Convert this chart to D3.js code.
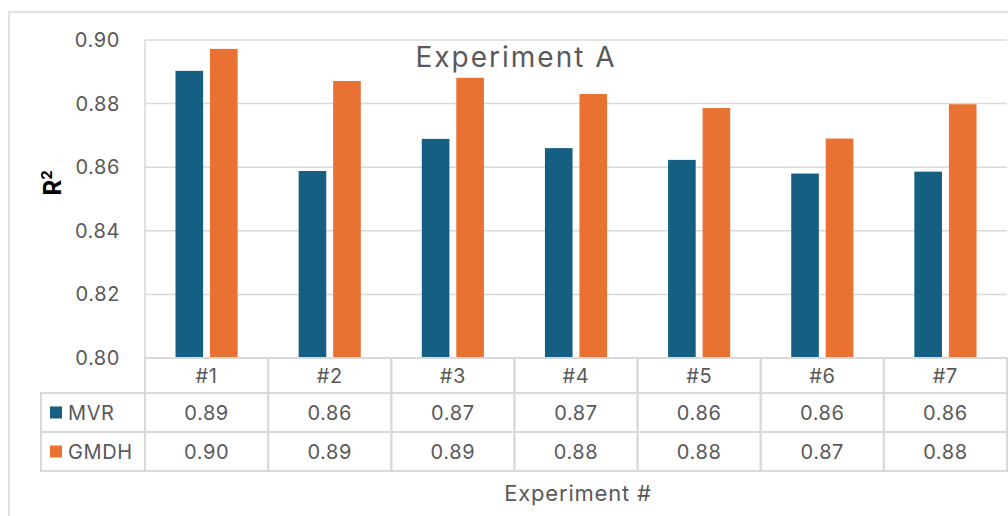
<!DOCTYPE html>
<html lang="en">
<head>
<meta charset="UTF-8">
<title>Experiment A</title>
<script src="https://cdn.jsdelivr.net/npm/d3@7"></script>
<style>
    body{ margin:0; background:#fff; }
    svg{ display:block; font-family: Inter, "Open Sans", sans-serif; }
    .grid line{ stroke:#d9d9d9; stroke-width:1.5px; }
    .tick-label{ fill:#595959; font-size:20px; letter-spacing:0.6px; }
    .cell{ fill:none; stroke:#d9d9d9; stroke-width:2px; }
    .cell-text{ fill:#595959; font-size:20px; letter-spacing:0.6px; text-anchor:middle; }
</style>
</head>
<body>
<svg id="main" width="1008" height="516"></svg>
<script>
    const categories = ["#1","#2","#3","#4","#5","#6","#7"]
    const seriesNames = ["MVR","GMDH"]
    const mvr = [0.8903,0.8588,0.8689,0.8660,0.8623,0.8580,0.8586]
    const gmdh = [0.8972,0.8871,0.8881,0.8830,0.8786,0.8690,0.8798]
    const yTicks = [0.80,0.82,0.84,0.86,0.88,0.90]
    const colors = ["#156082","#E97132"]

    const margins = { top:40, bottom:158, left:145, right:1 }
    const W = 1008, H = 516
    const svg = d3.select("#main")

    // outer chart frame
    svg.append("rect")
        .attr("x",9).attr("y",12)
        .attr("width",1010).attr("height",520)
        .attr("fill","none").attr("stroke","#d9d9d9").attr("stroke-width",1.5)

    const x0 = d3.scaleBand()
        .domain(categories)
        .range([margins.left, W - margins.right])
    const x1 = d3.scaleBand()
        .domain(seriesNames)
        .range([30.5, x0.bandwidth() - 30.5])
        .paddingInner(0.2)
    const yScale = d3.scaleLinear()
        .domain([0.80,0.90])
        .range([358, margins.top])

    // gridlines
    svg.append("g").attr("class","grid")
        .selectAll("line").data(yTicks).enter().append("line")
        .attr("x1",margins.left).attr("x2",W - margins.right)
        .attr("y1",d=>yScale(d)).attr("y2",d=>yScale(d))
    svg.append("line")
        .attr("x1",margins.left).attr("x2",margins.left)
        .attr("y1",yScale(0.90)).attr("y2",yScale(0.80))
        .attr("stroke","#d9d9d9").attr("stroke-width",1.5)

    // y tick labels
    svg.append("g")
        .selectAll("text").data(yTicks).enter().append("text")
        .attr("class","tick-label")
        .attr("x",120).attr("y",d=>yScale(d))
        .attr("dy","0.35em").attr("text-anchor","end")
        .text(d=>d3.format(".2f")(d))

    // bars
    const series = [mvr, gmdh]
    seriesNames.forEach((name,i)=>{
        svg.append("g").attr("fill",colors[i])
            .selectAll("rect").data(series[i]).enter().append("rect")
            .attr("x",(d,j)=>x0(categories[j]) + x1(name))
            .attr("width",x1.bandwidth())
            .attr("y",d=>yScale(d))
            .attr("height",d=>yScale(0.80) - yScale(d))
    })

    // data table
    const rowTop = [358, 393, 432], rowH = [35, 39, 39]
    const legendLeft = 41
    const table = svg.append("g")
    categories.forEach((c,j)=>{
        table.append("rect").attr("class","cell")
            .attr("x",x0(c)).attr("y",rowTop[0])
            .attr("width",x0.bandwidth()).attr("height",rowH[0])
        table.append("text").attr("class","cell-text")
            .attr("x",x0(c) + x0.bandwidth()/2).attr("y",rowTop[0] + rowH[0]/2)
            .attr("dy","0.35em").text(c)
    })
    seriesNames.forEach((name,i)=>{
        const y = rowTop[i+1], h = rowH[i+1]
        table.append("rect").attr("class","cell")
            .attr("x",legendLeft).attr("y",y)
            .attr("width",margins.left - legendLeft).attr("height",h)
        table.append("rect")
            .attr("x",50).attr("y",y + h/2 - 6)
            .attr("width",12).attr("height",12).attr("fill",colors[i])
        table.append("text").attr("class","cell-text")
            .attr("x",68).attr("y",y + h/2).attr("dy","0.35em")
            .style("text-anchor","start")
            .text(name)
        series[i].forEach((v,j)=>{
            table.append("rect").attr("class","cell")
                .attr("x",x0(categories[j])).attr("y",y)
                .attr("width",x0.bandwidth()).attr("height",h)
            table.append("text").attr("class","cell-text")
                .attr("x",x0(categories[j]) + x0.bandwidth()/2).attr("y",y + h/2)
                .attr("dy","0.35em").text(d3.format(".2f")(v))
        })
    })

    // titles
    svg.append("text")
        .attr("x",516).attr("y",57).attr("dy","0.35em")
        .attr("text-anchor","middle")
        .attr("fill","#595959").attr("font-size",28)
        .attr("letter-spacing","2px")
        .text("Experiment A")
    svg.append("text")
        .attr("x",578).attr("y",493).attr("dy","0.35em")
        .attr("text-anchor","middle")
        .attr("fill","#595959").attr("font-size",22)
        .attr("letter-spacing","0.8px")
        .text("Experiment #")
    const yTitle = svg.append("text")
        .attr("transform","translate(61,183) rotate(-90)")
        .attr("text-anchor","middle")
        .attr("font-weight","bold").attr("font-size",24).attr("fill","#000")
    yTitle.append("tspan").text("R")
    yTitle.append("tspan").attr("baseline-shift","super").attr("font-size",15).text("2")
</script>
</body>
</html>
